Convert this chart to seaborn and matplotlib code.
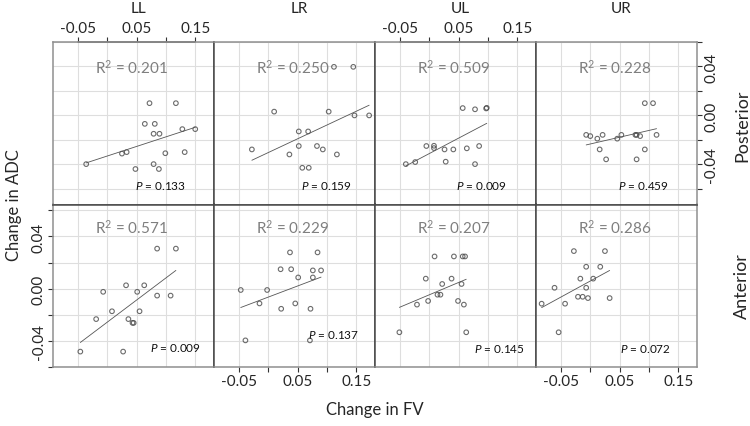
import matplotlib
matplotlib.use("Agg")
import matplotlib.pyplot as plt
import matplotlib.transforms as mtransforms
import numpy as np
import pandas as pd
import seaborn as sns

# regions (columns) and positions (rows)
regions = ["LL", "LR", "UL", "UR"]
positions = ["Posterior", "Anterior"]

# Posterior row: change in FV (x) and change in ADC (y)
fv_post_ll = [-0.036, 0.025, 0.033, 0.048, 0.064, 0.072, 0.081, 0.079, 0.089, 0.079, 0.088, 0.099, 0.117, 0.128, 0.132, 0.150]
adc_post_ll = [-0.0398, -0.0312, -0.0300, -0.0438, -0.0069, 0.0100, -0.0069, -0.0150, -0.0150, -0.0398, -0.0438, -0.0309, 0.0100, -0.0112, -0.0300, -0.0112]
fv_post_lr = [-0.028, 0.010, 0.036, 0.052, 0.052, 0.068, 0.058, 0.069, 0.083, 0.093, 0.103, 0.112, 0.117, 0.145, 0.147, 0.172]
adc_post_lr = [-0.0278, 0.0031, -0.0319, -0.0131, -0.0250, -0.0131, -0.0428, -0.0428, -0.0250, -0.0278, 0.0031, 0.0397, -0.0319, 0.0397, 0.0000, 0.0000]
fv_post_ul = [-0.040, -0.024, -0.005, 0.008, 0.008, 0.026, 0.041, 0.028, 0.057, 0.064, 0.078, 0.078, 0.085, 0.097, 0.098]
adc_post_ul = [-0.0398, -0.0381, -0.0250, -0.0248, -0.0267, -0.0278, -0.0278, -0.0378, 0.0060, -0.0269, 0.0050, -0.0398, -0.0250, 0.0057, 0.0062]
fv_post_ur = [-0.007, 0.000, 0.012, 0.021, 0.016, 0.027, 0.046, 0.053, 0.077, 0.079, 0.085, 0.079, 0.093, 0.093, 0.107, 0.113]
adc_post_ur = [-0.0159, -0.0169, -0.0190, -0.0159, -0.0278, -0.0359, -0.0190, -0.0159, -0.0159, -0.0159, -0.0169, -0.0359, 0.0100, -0.0278, 0.0100, -0.0159]

# Anterior row
fv_ant_ll = [-0.046, -0.019, -0.007, 0.008, 0.032, 0.027, 0.036, 0.043, 0.045, 0.051, 0.055, 0.063, 0.085, 0.085, 0.108, 0.117]
adc_ant_ll = [-0.0482, -0.0233, -0.0024, -0.0173, 0.0026, -0.0482, -0.0233, -0.0262, -0.0262, -0.0024, -0.0173, 0.0026, 0.0307, -0.0053, -0.0053, 0.0307]
fv_ant_lr = [-0.047, -0.039, -0.015, -0.002, 0.021, 0.022, 0.037, 0.039, 0.046, 0.051, 0.072, 0.071, 0.076, 0.076, 0.084, 0.090]
adc_ant_lr = [-0.0010, -0.0396, -0.0113, -0.0010, 0.0149, -0.0154, 0.0278, 0.0149, -0.0113, 0.0086, -0.0154, -0.0396, 0.0140, 0.0086, 0.0278, 0.0140]
fv_ant_ul = [-0.051, -0.021, -0.002, -0.006, 0.009, 0.014, 0.019, 0.022, 0.038, 0.042, 0.049, 0.055, 0.057, 0.061, 0.059, 0.063]
adc_ant_ul = [-0.0334, -0.0122, -0.0094, 0.0077, 0.0247, -0.0046, -0.0046, 0.0036, 0.0077, 0.0247, -0.0094, 0.0036, 0.0247, 0.0247, -0.0122, -0.0334]
fv_ant_ur = [-0.083, -0.061, -0.054, -0.043, -0.028, -0.021, -0.017, -0.013, -0.007, -0.007, -0.004, 0.005, 0.017, 0.025, 0.033]
adc_ant_ur = [-0.0115, 0.0007, -0.0334, -0.0115, 0.0288, -0.0062, 0.0077, -0.0062, 0.0168, 0.0007, -0.0072, 0.0077, 0.0168, 0.0288, -0.0072]

# annotations
r2_post = ["0.201", "0.250", "0.509", "0.228"]
r2_ant = ["0.571", "0.229", "0.207", "0.286"]
p_post = ["0.133", "0.159", "0.009", "0.459"]
p_ant = ["0.009", "0.137", "0.145", "0.072"]

# build long table
frames = []
pairs = {
    ("Posterior", "LL"): (fv_post_ll, adc_post_ll),
    ("Posterior", "LR"): (fv_post_lr, adc_post_lr),
    ("Posterior", "UL"): (fv_post_ul, adc_post_ul),
    ("Posterior", "UR"): (fv_post_ur, adc_post_ur),
    ("Anterior", "LL"): (fv_ant_ll, adc_ant_ll),
    ("Anterior", "LR"): (fv_ant_lr, adc_ant_lr),
    ("Anterior", "UL"): (fv_ant_ul, adc_ant_ul),
    ("Anterior", "UR"): (fv_ant_ur, adc_ant_ur),
}
for (pos, reg), (fv, adc) in pairs.items():
    frames.append(pd.DataFrame({"position": pos, "region": reg, "fv": fv, "adc": adc}))
df = pd.concat(frames, ignore_index=True)

sns.set_style("white")
plt.rcParams["font.family"] = ["Lato", "DejaVu Sans"]
plt.rcParams["mathtext.fontset"] = "custom"
plt.rcParams["mathtext.it"] = "Lato:italic"
plt.rcParams["mathtext.rm"] = "Lato"

fig, axes = plt.subplots(2, 4, figsize=(7.5, 4.27), dpi=100,
                         gridspec_kw=dict(wspace=0, hspace=0))
fig.subplots_adjust(left=53 / 750, right=697 / 750, top=1 - 43 / 427, bottom=1 - 368 / 427)

ylims = [(-0.0728, 0.0438), (-0.0521, 0.0645)]
xticks = [-0.05, 0.0, 0.05, 0.10, 0.15]
xlabels = ["-0.05", "", "0.05", "", "0.15"]
yticks = [-0.06, -0.04, -0.02, 0.0, 0.02, 0.04, 0.06]
ylabels = ["", "-0.04", "", "0.00", "", "0.04", ""]

# text positions (axes fraction)
p_xy_post = [(0.67, 0.117), (0.70, 0.117), (0.66, 0.117), (0.67, 0.117)]
p_xy_ant = [(0.76, 0.122), (0.74, 0.203), (0.77, 0.114), (0.68, 0.114)]

outer = "#8f8f8f"
inner = "#4a4a4a"

for i, pos in enumerate(positions):
    for j, reg in enumerate(regions):
        ax = axes[i, j]
        sub = df[(df.position == pos) & (df.region == reg)]
        sns.regplot(data=sub, x="fv", y="adc", ax=ax, ci=None, truncate=True,
                    scatter_kws=dict(s=11, facecolors="none", edgecolors="#474747", linewidths=0.8),
                    line_kws=dict(color="#555555", lw=0.6))
        ax.set_xlim(-0.0926, 0.182)
        ax.set_ylim(*ylims[i])
        ax.set_xticks(xticks)
        ax.set_yticks(yticks)
        ax.set_xticklabels(xlabels)
        ax.set_yticklabels(ylabels, rotation=90, va="center")
        ax.grid(True, color="#dedede", lw=0.8)
        ax.set_axisbelow(True)
        ax.set_xlabel("")
        ax.set_ylabel("")
        ax.tick_params(axis="both", labelsize=11, length=3.6, width=0.8, color="#333333",
                       direction="out",
                       top=(i == 0 and j in (0, 2)), labeltop=(i == 0 and j in (0, 2)),
                       bottom=(i == 1 and j in (1, 3)), labelbottom=(i == 1 and j in (1, 3)),
                       left=(i == 1 and j == 0), labelleft=(i == 1 and j == 0),
                       right=(i == 0 and j == 3), labelright=(i == 0 and j == 3),
                       pad=1.5)
        for side in ["top", "bottom", "left", "right"]:
            ax.spines[side].set_visible(True)
            ax.spines[side].set_color(outer)
            ax.spines[side].set_linewidth(1.1)
        if j < 3:
            ax.spines["right"].set_color(inner)
        if j > 0:
            ax.spines["left"].set_color(inner)
        if i == 0:
            ax.spines["bottom"].set_color(inner)
        else:
            ax.spines["top"].set_color(inner)

        r2 = r2_post[j] if i == 0 else r2_ant[j]
        pv = p_post[j] if i == 0 else p_ant[j]
        pxy = p_xy_post[j] if i == 0 else p_xy_ant[j]
        ax.text(0.49, 0.846 if i == 0 else 0.862, "R$^{2}$ = " + r2, transform=ax.transAxes,
                ha="center", va="center", fontsize=11, color="#7f7f7f")
        ax.text(pxy[0], pxy[1], "$P$ = " + pv, transform=ax.transAxes,
                ha="center", va="center", fontsize=8.5, color="#111111")

        if i == 0:
            trans = mtransforms.blended_transform_factory(ax.transData, fig.transFigure)
            fig.text(0.053, 1 - 9 / 427, reg, transform=trans, ha="center", va="center",
                     fontsize=11)
            if j in (0, 2):
                ax.plot([-0.05, 0.15], [1, 1], transform=ax.get_xaxis_transform(),
                        color=inner, lw=1.1, clip_on=False)

for label in axes[0, 3].get_yticklabels():
    label.set_ha("left")
for label in axes[1, 0].get_yticklabels():
    label.set_ha("right")

fig.text(375 / 750, 1 - 410 / 427, "Change in FV", ha="center", va="center", fontsize=12)
fig.text(14 / 750, 1 - 205 / 427, "Change in ADC", ha="center", va="center",
         rotation=90, fontsize=12)
fig.text(742 / 750, 1 - 126 / 427, "Posterior", ha="center", va="center",
         rotation=90, fontsize=13)
fig.text(742 / 750, 1 - 286 / 427, "Anterior", ha="center", va="center",
         rotation=90, fontsize=13)

fig.savefig("out.png", dpi=100)
